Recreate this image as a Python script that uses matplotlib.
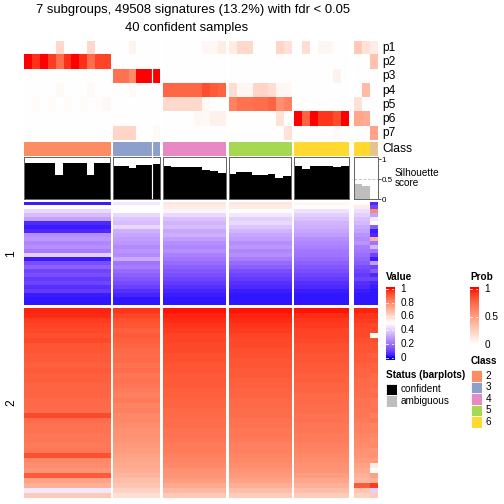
import numpy as np
import matplotlib
matplotlib.use("Agg")
import matplotlib.pyplot as plt
from matplotlib import colors as mcolors

plt.rcParams["font.family"] = ["Liberation Sans", "DejaVu Sans"]

# ---- data -------------------------------------------------------------
group_names = ["2", "3", "4", "5", "6", "amb"]
group_sizes = [11, 6, 8, 8, 7, 3]

# membership probabilities p1..p7 (columns in slice order)
p1 = [0, 0, 0, 0, 0.2, 0, 0, 0, 0.2, 0, 0,
      0, 0, 0.06, 0, 0, 0,
      0, 0, 0, 0, 0, 0.04, 0.04, 0.1,
      0.1, 0.2, 0.2, 0, 0, 0, 0.22, 0.15,
      0, 0.17, 0, 0.05, 0.05, 0, 0,
      0.28, 0.15, 0.1]
p2 = [1.0, 0.93, 1.0, 0.9, 0.72, 0.93, 1.0, 0.93, 0.72, 0.88, 0.88,
      0, 0, 0, 0, 0, 0,
      0, 0, 0, 0, 0, 0, 0, 0,
      0, 0, 0, 0, 0, 0, 0, 0,
      0, 0, 0, 0, 0, 0, 0,
      0, 0, 0.32]
p3 = [0, 0, 0, 0, 0, 0, 0, 0, 0, 0, 0,
      0.7, 0.7, 0.6, 1.0, 1.0, 1.0,
      0, 0, 0, 0, 0, 0, 0, 0,
      0, 0, 0, 0, 0, 0, 0, 0,
      0, 0, 0, 0, 0, 0.07, 0,
      0, 0, 0]
p4 = [0, 0, 0, 0, 0.03, 0, 0, 0, 0.03, 0, 0,
      0, 0, 0.03, 0, 0, 0,
      0.75, 0.75, 0.75, 0.75, 0.75, 0.85, 0.8, 0.77,
      0.17, 0.05, 0.05, 0.22, 0.22, 0.17, 0.05, 0.04,
      0, 0, 0, 0, 0, 0, 0,
      0, 0.35, 0]
p5 = [0, 0.02, 0, 0.02, 0, 0.02, 0, 0.02, 0, 0.02, 0.04,
      0, 0, 0, 0, 0, 0,
      0.2, 0.2, 0.2, 0.2, 0.2, 0.03, 0, 0,
      0.63, 0.7, 0.7, 0.72, 0.72, 0.77, 0.57, 0.63,
      0, 0, 0, 0, 0, 0, 0,
      0.15, 0, 0]
p6 = [0, 0, 0, 0, 0, 0, 0, 0, 0, 0, 0,
      0, 0, 0, 0, 0, 0,
      0, 0, 0, 0, 0.04, 0.03, 0.08, 0.08,
      0, 0, 0, 0, 0, 0, 0.15, 0,
      1.0, 0.77, 1.0, 0.92, 0.92, 0.85, 1.0,
      0.45, 0.43, 0]
p7 = [0, 0, 0, 0, 0, 0, 0, 0, 0, 0, 0,
      0.22, 0.22, 0.22, 0, 0, 0.03,
      0, 0, 0, 0, 0, 0, 0, 0,
      0, 0, 0, 0, 0, 0, 0, 0.15,
      0, 0, 0, 0, 0, 0.03, 0,
      0, 0, 0.47]
prob_names = ["p1", "p2", "p3", "p4", "p5", "p6", "p7"]

classes = [2] * 11 + [3] * 6 + [4] * 8 + [5] * 8 + [6] * 7 + [6, 6, 7]
class_colors = {2: "#FC8D62", 3: "#8DA0CB", 4: "#E78AC3", 5: "#A6D854",
                6: "#FFD92F", 7: "#E5C494"}

silhouette = [0.9, 0.9, 0.9, 0.9, 0.61, 0.9, 0.9, 0.9, 0.61, 0.9, 0.9,
              0.84, 0.84, 0.79, 0.86, 0.86, 0.875,
              0.83, 0.82, 0.82, 0.82, 0.82, 0.73, 0.71, 0.67,
              0.63, 0.68, 0.68, 0.61, 0.61, 0.63, 0.53, 0.58,
              0.84, 0.76, 0.84, 0.84, 0.84, 0.82, 0.84,
              0.375, 0.33, 0.0]
confident = [True] * 40 + [False] * 3

# signature block 1 (row profiles, top to bottom)
b1_g2 = [0.03, 0.50, 0.42, 0.36, 0.30, 0.05, 0.03, 0.05, 0.26, 0.28, 0.24, 0.26, 0.22,
         0.40, 0.03, 0.12, 0.16, 0.10, 0.12, 0.08, 0.10, 0.06, 0.08, 0.03, 0.02, 0.02]
b1_g3 = [0.45, 0.50, 0.50, 0.42, 0.38, 0.36, 0.42, 0.33, 0.31, 0.29, 0.28, 0.25, 0.27,
         0.25, 0.32, 0.20, 0.22, 0.18, 0.16, 0.14, 0.11, 0.09, 0.06, 0.04, 0.02, 0.02]
b1_g4 = [0.56, 0.55, 0.48, 0.42, 0.37, 0.34, 0.36, 0.31, 0.33, 0.29, 0.26, 0.24, 0.26,
         0.23, 0.21, 0.18, 0.16, 0.14, 0.12, 0.10, 0.08, 0.06, 0.04, 0.03, 0.02, 0.02]
b1_g5 = [0.56, 0.55, 0.50, 0.45, 0.40, 0.42, 0.38, 0.34, 0.31, 0.29, 0.26, 0.28, 0.24,
         0.26, 0.22, 0.18, 0.16, 0.12, 0.10, 0.08, 0.06, 0.05, 0.03, 0.02, 0.02, 0.02]
b1_g6 = [0.52, 0.50, 0.44, 0.40, 0.37, 0.34, 0.33, 0.31, 0.29, 0.26, 0.24, 0.23, 0.21,
         0.20, 0.18, 0.16, 0.14, 0.12, 0.10, 0.08, 0.06, 0.05, 0.03, 0.02, 0.02, 0.02]
b1_g7a = [0.50, 0.55, 0.43, 0.40, 0.37, 0.35, 0.32, 0.30, 0.27, 0.25, 0.27, 0.22, 0.21,
          0.19, 0.17, 0.15, 0.12, 0.10, 0.08, 0.10, 0.06, 0.05, 0.03, 0.02, 0.02, 0.02]
b1_g7b = [0.05, 0.10, 0.80, 0.30, 0.45, 0.50, 0.15, 0.03, 0.05, 0.70, 0.20, 0.35, 0.20,
          0.10, 0.03, 0.30, 0.10, 0.15, 0.05, 0.10, 0.04, 0.03, 0.02, 0.02, 0.02, 0.02]

# signature block 2
b2_g2 = [0.98, 0.97, 0.95, 0.94, 0.93, 0.92, 0.93, 0.91, 0.91, 0.90, 0.90, 0.89, 0.90,
         0.89, 0.89, 0.88, 0.88, 0.88, 0.87, 0.87, 0.86, 0.93, 0.86, 0.85, 0.85, 0.84,
         0.84, 0.83, 0.84, 0.92, 0.80, 0.79, 0.77, 0.90, 0.74, 0.70, 0.45, 0.64]
b2_g3 = [0.96, 0.94, 0.92, 0.91, 0.89, 0.90, 0.89, 0.88, 0.87, 0.86, 0.87, 0.85, 0.86,
         0.84, 0.85, 0.84, 0.83, 0.82, 0.83, 0.81, 0.82, 0.80, 0.80, 0.79, 0.78, 0.78,
         0.77, 0.76, 0.75, 0.74, 0.73, 0.72, 0.71, 0.69, 0.67, 0.65, 0.62, 0.58]
b2_g4 = [0.99, 0.98, 0.97, 0.96, 0.95, 0.94, 0.94, 0.93, 0.93, 0.92, 0.92, 0.91, 0.91,
         0.90, 0.90, 0.90, 0.89, 0.89, 0.88, 0.88, 0.87, 0.87, 0.86, 0.86, 0.85, 0.85,
         0.84, 0.83, 0.83, 0.82, 0.81, 0.80, 0.78, 0.77, 0.75, 0.72, 0.68, 0.64]
b2_g5 = [0.99, 0.98, 0.97, 0.96, 0.95, 0.94, 0.93, 0.93, 0.92, 0.92, 0.91, 0.91, 0.90,
         0.90, 0.89, 0.89, 0.88, 0.88, 0.87, 0.87, 0.86, 0.86, 0.85, 0.85, 0.84, 0.84,
         0.83, 0.82, 0.82, 0.81, 0.80, 0.79, 0.77, 0.76, 0.74, 0.71, 0.67, 0.63]
b2_g6 = [0.99, 0.97, 0.96, 0.95, 0.94, 0.94, 0.93, 0.92, 0.92, 0.91, 0.91, 0.90, 0.90,
         0.89, 0.89, 0.88, 0.88, 0.87, 0.87, 0.86, 0.86, 0.85, 0.85, 0.84, 0.84, 0.83,
         0.83, 0.82, 0.81, 0.80, 0.79, 0.78, 0.77, 0.75, 0.73, 0.70, 0.67, 0.63]
b2_g7a = [0.98, 0.96, 0.95, 0.94, 0.93, 0.93, 0.92, 0.91, 0.91, 0.90, 0.90, 0.89, 0.88,
          0.88, 0.87, 0.87, 0.86, 0.86, 0.85, 0.85, 0.84, 0.84, 0.83, 0.82, 0.82, 0.81,
          0.80, 0.79, 0.78, 0.77, 0.76, 0.74, 0.72, 0.70, 0.68, 0.90, 0.65, 0.62]
b2_g7b = [0.98, 0.96, 0.95, 0.93, 0.93, 0.50, 0.92, 0.91, 0.91, 0.89, 0.90, 0.88, 0.89,
          0.87, 0.86, 0.87, 0.85, 0.86, 0.84, 0.84, 0.85, 0.82, 0.84, 0.81, 0.82, 0.80,
          0.79, 0.80, 0.77, 0.78, 0.76, 0.55, 0.50, 0.74, 0.70, 0.95, 0.40, 0.64]

block1 = [[b1_g2] * 11, [b1_g3] * 6, [b1_g4] * 8, [b1_g5] * 8, [b1_g6] * 7,
          [b1_g7a, b1_g7a, b1_g7b]]
block2 = [[b2_g2] * 11, [b2_g3] * 6, [b2_g4] * 8, [b2_g5] * 8, [b2_g6] * 7,
          [b2_g7a, b2_g7a, b2_g7b]]

title1 = "7 subgroups, 49508 signatures (13.2%) with fdr < 0.05"
title2 = "40 confident samples"

# ---- colour ramps in LAB space ----------------------------------------
M = np.array([[0.4124, 0.3576, 0.1805],
              [0.2126, 0.7152, 0.0722],
              [0.0193, 0.1192, 0.9505]])
WHITE = M.sum(axis=1)


def to_lab(c):
    rgb = np.array(mcolors.to_rgb(c))
    lin = np.where(rgb <= 0.04045, rgb / 12.92, ((rgb + 0.055) / 1.055) ** 2.4)
    xyz = M @ lin / WHITE
    f = np.where(xyz > (6 / 29) ** 3, np.cbrt(xyz), xyz / (3 * (6 / 29) ** 2) + 4 / 29)
    return np.array([116 * f[1] - 16, 500 * (f[0] - f[1]), 200 * (f[1] - f[2])])


def from_lab(lab):
    L, a, b = lab
    fy = (L + 16) / 116
    f = np.array([fy + a / 500, fy, fy - b / 200])
    xyz = np.where(f > 6 / 29, f ** 3, 3 * (6 / 29) ** 2 * (f - 4 / 29)) * WHITE
    lin = np.clip(np.linalg.solve(M, xyz), 0, 1)
    rgb = np.where(lin <= 0.0031308, 12.92 * lin, 1.055 * lin ** (1 / 2.4) - 0.055)
    return np.clip(rgb, 0, 1)


def lab_cmap(cols, n=256):
    labs = [to_lab(c) for c in cols]
    pos = np.linspace(0, 1, len(cols))
    out = []
    for t in np.linspace(0, 1, n):
        i = min(np.searchsorted(pos, t, side="right") - 1, len(cols) - 2)
        u = (t - pos[i]) / (pos[i + 1] - pos[i])
        out.append(from_lab(labs[i] * (1 - u) + labs[i + 1] * u))
    return mcolors.ListedColormap(out)


value_cmap = lab_cmap(["#0000FF", "#FFFFFF", "#FF0000"])
prob_cmap = lab_cmap(["#FFFFFF", "#FF0000"])
AMB = "#BEBEBE"

# ---- layout helpers (pixel boxes) -------------------------------------
W = H = 504
fig = plt.figure(figsize=(7, 7), dpi=72)


def box(x0, y0, x1, y1):
    return fig.add_axes([x0 / W, 1 - y1 / H, (x1 - x0) / W, (y1 - y0) / H])


def bare(ax):
    ax.set_xticks([])
    ax.set_yticks([])
    for s in ax.spines.values():
        s.set_visible(False)


col_w = 7.82
x_starts = []
x = 24.0
for k, n in enumerate(group_sizes):
    if k == len(group_sizes) - 1:
        x += 2.6
    x_starts.append(x)
    x += n * col_w + 3.0

prob_mat = np.array([p1, p2, p3, p4, p5, p6, p7])
class_arr = np.array(classes)
sil_arr = np.array(silhouette)
conf_arr = np.array(confident)
cls_keys = sorted(class_colors)
cls_cmap = mcolors.ListedColormap([class_colors[k] for k in cls_keys])

start = 0
for k, n in enumerate(group_sizes):
    x0 = x_starts[k]
    x1 = x0 + n * col_w
    sl = slice(start, start + n)
    start += n

    ax = box(x0, 40.7, x1, 140.3)
    ax.imshow(prob_mat[:, sl], cmap=prob_cmap, vmin=0, vmax=1,
              aspect="auto", interpolation="nearest")
    bare(ax)

    axc = box(x0, 142.0, x1, 155.8)
    idx = np.array([cls_keys.index(c) for c in class_arr[sl]])[None, :]
    axc.imshow(idx, cmap=cls_cmap, vmin=-0.5, vmax=len(cls_keys) - 0.5,
               aspect="auto", interpolation="nearest")
    bare(axc)

    axs = box(x0, 156.7, x1, 199.3)
    axs.axhline(0.5, color=AMB, lw=0.9, ls=(0, (3, 2)), zorder=0)
    axs.bar(np.arange(n), sil_arr[sl], width=1.0,
            color=["black" if c else AMB for c in conf_arr[sl]], zorder=2)
    axs.set_xlim(-0.5, n - 0.5)
    axs.set_ylim(0, 1.065)
    axs.set_xticks([])
    for s in axs.spines.values():
        s.set_color("#666666")
        s.set_linewidth(1.0)
    if k == len(group_sizes) - 1:
        axs.yaxis.tick_right()
        axs.set_yticks([0, 0.5, 1])
        axs.set_yticklabels(["0", "0.5", "1"], fontsize=8)
        axs.tick_params(axis="y", length=3, width=0.8, pad=1, color="#333333")
        axs.text(1.7, 0.5, "Silhouette\nscore", transform=axs.transAxes,
                 fontsize=10, ha="left", va="center", linespacing=1.0)
    else:
        axs.set_yticks([])

    if k == 1:
        for a in (ax, axc, axs):
            a.axvline(4.5, color="white", lw=1.2, zorder=5)

    for blk, (y0, y1) in zip((block1, block2), ((201.7, 305.0), (308.3, 498.0))):
        axb = box(x0, y0, x1, y1)
        mat = np.array(blk[k]).T
        axb.imshow(mat, cmap=value_cmap, vmin=0, vmax=1, aspect="auto",
                   interpolation="nearest")
        bare(axb)

# annotation names
for i, name in enumerate(prob_names):
    fig.text(382.5 / W, 1 - (40.7 + 14.23 * (i + 0.5)) / H, name,
             fontsize=12, ha="left", va="center")
fig.text(382.5 / W, 1 - 149 / H, "Class", fontsize=12, ha="left", va="center")

# titles
fig.text(193.3 / W, 1 - 10 / H, title1, fontsize=13, ha="center", va="center")
fig.text(186.7 / W, 1 - 28 / H, title2, fontsize=13, ha="center", va="center")

# row titles
fig.text(11.5 / W, 1 - 253.3 / H, "1", fontsize=12, rotation=90,
         ha="center", va="center")
fig.text(11.5 / W, 1 - 403 / H, "2", fontsize=12, rotation=90,
         ha="center", va="center")


# ---- legends ------------------------------------------------------------
def colorbar(x0, y0, x1, y1, cmap, ticks, labels, pad):
    axl = box(x0, y0, x1, y1)
    grad = np.linspace(1 + pad, -pad, 200)[:, None]
    axl.imshow(grad, cmap=cmap, vmin=0, vmax=1, aspect="auto",
               extent=(0, 1, -pad, 1 + pad), interpolation="bilinear")
    axl.set_xlim(0, 1)
    axl.set_ylim(-pad, 1 + pad)
    for t, lab in zip(ticks, labels):
        axl.plot([0, 0.22], [t, t], color="white", lw=0.8)
        axl.plot([0.78, 1], [t, t], color="white", lw=0.8)
        axl.text(1.75, t, lab, fontsize=10, ha="left", va="center", clip_on=False)
    bare(axl)


fig.text(385.7 / W, 1 - 277 / H, "Value", fontsize=10, fontweight="bold",
         ha="left", va="center")
colorbar(385.7, 286.7, 394.0, 360.0, value_cmap, [0, 0.2, 0.4, 0.6, 0.8, 1],
         ["0", "0.2", "0.4", "0.6", "0.8", "1"], 0.035)

fig.text(470.0 / W, 1 - 277 / H, "Prob", fontsize=10, fontweight="bold",
         ha="left", va="center")
colorbar(470.0, 286.7, 478.3, 347.0, prob_cmap, [0, 0.5, 1],
         ["0", "0.5", "1"], 0.045)

fig.text(385.7 / W, 1 - 375.5 / H, "Status (barplots)", fontsize=10,
         fontweight="bold", ha="left", va="center")
axst = box(385.7, 383.5, 397.0, 406.5)
status_labels = ["confident", "ambiguous"]
status_cols = ["black", AMB]
for i, (lab, col) in enumerate(zip(status_labels, status_cols)):
    axst.add_patch(plt.Rectangle((0, 1 - (i + 1) * 0.5), 1, 0.5, facecolor=col,
                                 edgecolor="white", lw=0.8))
    axst.text(1.3, 1 - (i + 0.5) * 0.5, lab, fontsize=10, ha="left",
              va="center", clip_on=False)
axst.set_xlim(0, 1)
axst.set_ylim(0, 1)
bare(axst)

fig.text(470.7 / W, 1 - 361.5 / H, "Class", fontsize=10, fontweight="bold",
         ha="left", va="center")
legend_classes = [2, 3, 4, 5, 6]
axcl = box(470.7, 370.0, 481.7, 427.5)
nc = len(legend_classes)
for i, c in enumerate(legend_classes):
    axcl.add_patch(plt.Rectangle((0, nc - i - 1), 1, 1, facecolor=class_colors[c],
                                 edgecolor="white", lw=0.8))
    axcl.text(1.35, nc - i - 0.5, str(c), fontsize=10, ha="left", va="center",
              clip_on=False)
axcl.set_xlim(0, 1)
axcl.set_ylim(0, nc)
bare(axcl)

fig.savefig("out.png", dpi=72)
